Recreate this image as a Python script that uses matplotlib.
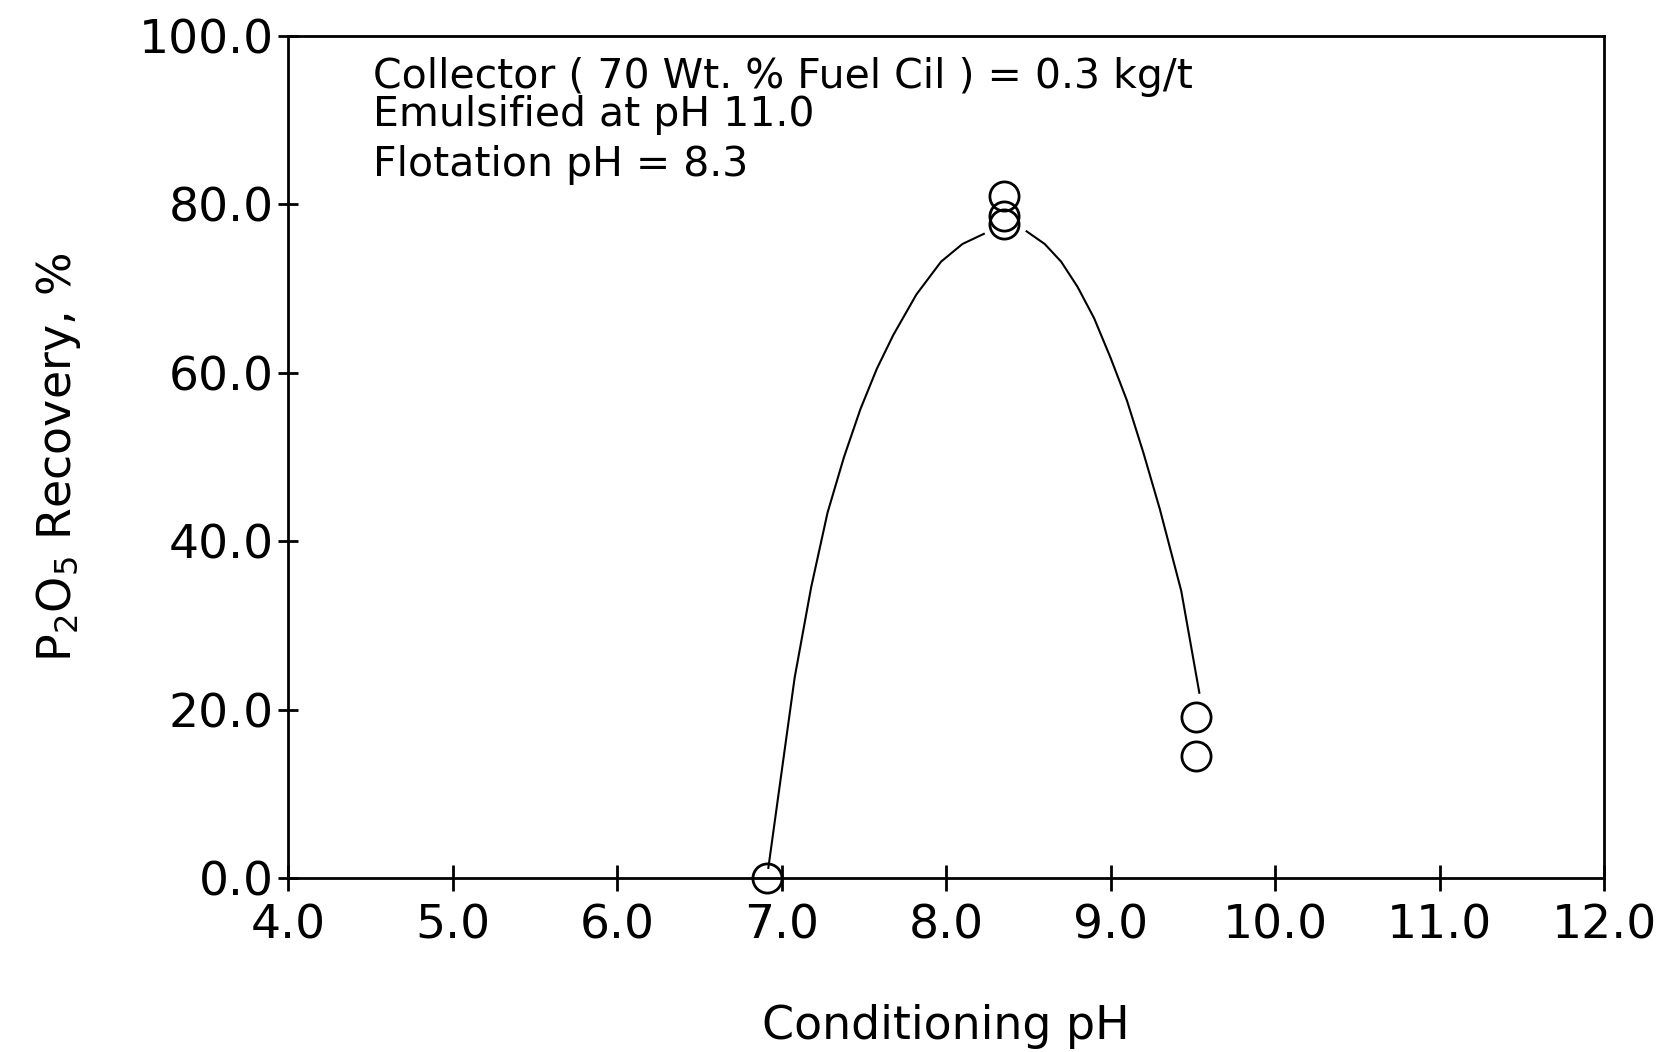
import numpy as np
import matplotlib
matplotlib.use("Agg")
import matplotlib.pyplot as plt

# measured points
ph_points = [6.91, 8.35, 8.35, 8.35, 9.52, 9.52]
rec_points = [0.0, 81.0, 78.6, 77.7, 19.1, 14.5]

# fitted curve as drawn (break at the peak where the markers sit)
curve_ph = [6.92, 7.00, 7.08, 7.18, 7.28, 7.38, 7.48, 7.58, 7.68, 7.82, 7.97, 8.10, 8.23,
            np.nan,
            8.49, 8.60, 8.70, 8.80, 8.90, 9.00, 9.10, 9.20, 9.30, 9.43, 9.54]
curve_rec = [1.2, 12.5, 23.8, 34.5, 43.4, 50.0, 55.7, 60.5, 64.5, 69.3, 73.2, 75.3, 76.5,
             np.nan,
             76.8, 75.3, 73.2, 70.2, 66.5, 61.8, 56.7, 50.5, 43.8, 34.1, 22.0]

xticks = [4.0, 5.0, 6.0, 7.0, 8.0, 9.0, 10.0, 11.0, 12.0]
yticks = [0.0, 20.0, 40.0, 60.0, 80.0, 100.0]

fig = plt.figure(figsize=(16.62, 10.52), dpi=100)
ax = fig.add_axes([288/1662, 1 - 878/1052, (1604 - 288)/1662, (878 - 36)/1052])

ax.plot(curve_ph, curve_rec, color='black', lw=1.5, zorder=2)
ax.plot(ph_points, rec_points, linestyle='none', marker='o', markersize=21,
        markerfacecolor='none', markeredgecolor='black', markeredgewidth=2.0,
        zorder=3, clip_on=False)

ax.set_xlim(4.0, 12.0)
ax.set_ylim(0.0, 100.0)
ax.set_xticks(xticks)
ax.set_yticks(yticks)
ax.set_xticklabels([f"{v:.1f}" for v in xticks])
ax.set_yticklabels([f"{v:.1f}" for v in yticks])

for s in ax.spines.values():
    s.set_linewidth(2.0)

ax.tick_params(axis='x', direction='inout', length=19, width=2.0, pad=9,
               labelsize=34, top=False)
ax.tick_params(axis='y', direction='inout', length=14, width=2.0, pad=3,
               labelsize=34, right=False)

ax.set_xlabel('Conditioning pH', fontsize=33, labelpad=40)
ax.set_ylabel(r'P$_2$O$_5$ Recovery, %', fontsize=33, labelpad=40)

ann_x = (373 - 288) / (1604 - 288)
def yfrac(py):
    return (878 - py) / (878 - 36)
ax.text(ann_x, yfrac(88), 'Collector ( 70 Wt. % Fuel Cil ) = 0.3 kg/t',
        transform=ax.transAxes, fontsize=29.5, va='baseline', ha='left')
ax.text(ann_x, yfrac(126), 'Emulsified at pH 11.0',
        transform=ax.transAxes, fontsize=29.5, va='baseline', ha='left')
ax.text(ann_x, yfrac(176), 'Flotation pH = 8.3',
        transform=ax.transAxes, fontsize=29.5, va='baseline', ha='left')

fig.savefig('out.png', dpi=100)
